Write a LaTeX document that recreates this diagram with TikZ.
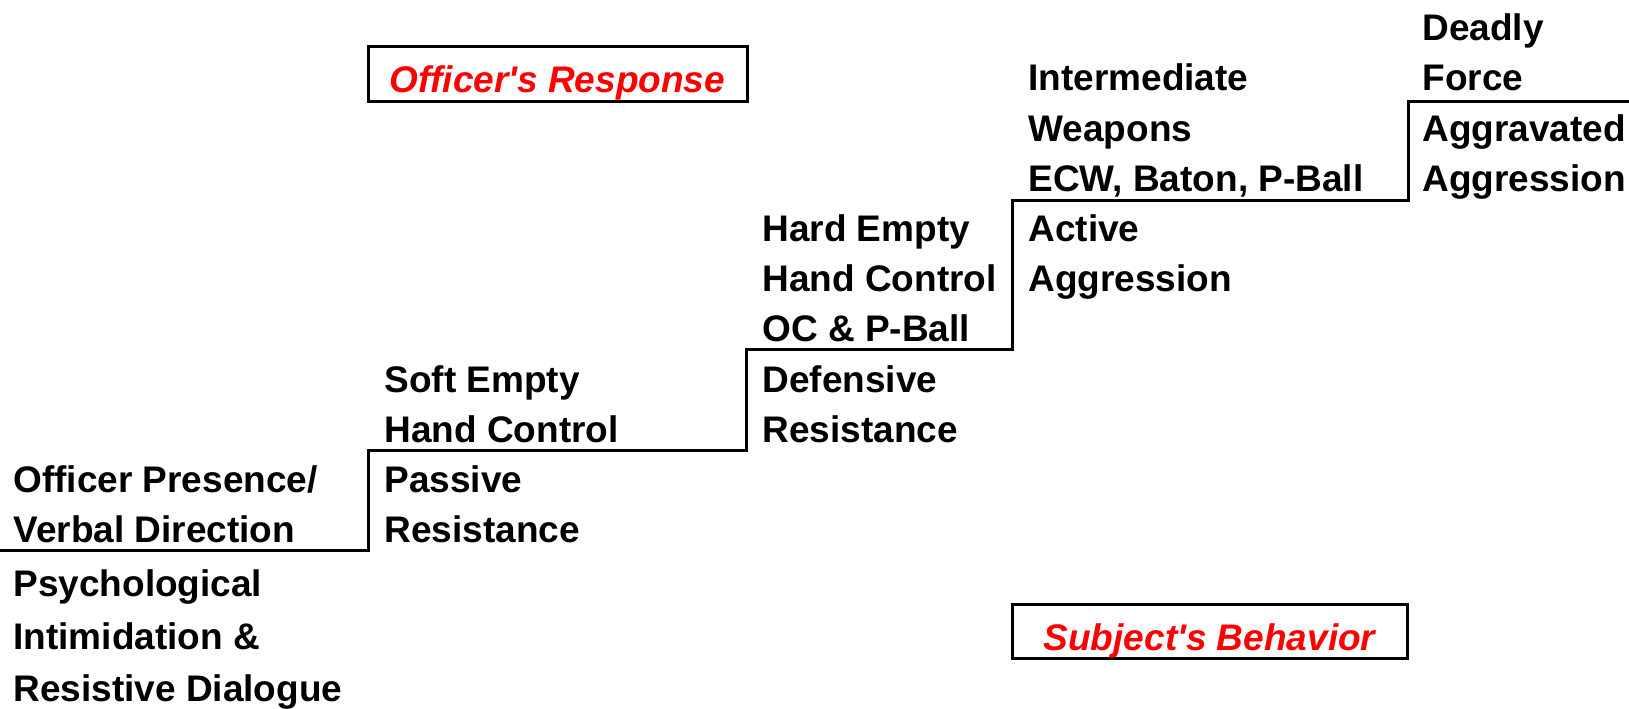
\documentclass[tikz,border=0pt]{standalone}
\usepackage{fontspec}
\setmainfont{Liberation Sans}
\begin{document}
\begin{tikzpicture}[x=0.5pt,y=-0.5pt,
  lbl/.style={anchor=base west,inner sep=0pt,font=\fontsize{18.5}{22}\selectfont\bfseries},
  tag/.style={draw,line width=1.5pt,inner sep=0pt,anchor=base,text height=23pt,text depth=4.5pt,
    text=red,font=\fontsize{18.5}{22}\selectfont\bfseries\itshape},
  stair/.style={line width=1.5pt}]
\useasboundingbox (0,0) rectangle (1629,708);
% staircase
\coordinate (s0) at (0,550);
\coordinate (s1) at (368,450);
\coordinate (s2) at (746,349);
\coordinate (s3) at (1012,200);
\coordinate (s4) at (1408,101);
\coordinate (s5) at (1629,101);
\draw[stair] (s0) -| (s1) -| (s2) -| (s3) -| (s4) -- (s5);
% column 0
\node[lbl] (a1) at (13,492) {Officer Presence/};
\node[lbl] (a2) at (13,542) {Verbal Direction};
\node[lbl] (b1) at (13,596) {Psychological};
\node[lbl] (b2) at (13,649) {Intimidation \&};
\node[lbl] (b3) at (13,701) {Resistive Dialogue};
% column 1
\node[lbl] (c1) at (384,392) {Soft Empty};
\node[lbl] (c2) at (384,442) {Hand Control};
\node[lbl] (d1) at (384,492) {Passive};
\node[lbl] (d2) at (384,542) {Resistance};
% column 2
\node[lbl] (e1) at (762,241) {Hard Empty};
\node[lbl] (e2) at (762,291) {Hand Control};
\node[lbl] (e3) at (762,341) {OC \& P-Ball};
\node[lbl] (f1) at (762,392) {Defensive};
\node[lbl] (f2) at (762,442) {Resistance};
% column 3
\node[lbl] (g1) at (1028,90) {Intermediate};
\node[lbl] (g2) at (1028,141) {Weapons};
\node[lbl] (g3) at (1028,191) {ECW, Baton, P-Ball};
\node[lbl] (h1) at (1028,241) {Active};
\node[lbl] (h2) at (1028,291) {Aggression};
% column 4
\node[lbl] (i1) at (1422,40) {Deadly};
\node[lbl] (i2) at (1422,90) {Force};
\node[lbl] (j1) at (1422,141) {Aggravated};
\node[lbl] (j2) at (1422,191) {Aggression};
% tags
\node[tag,minimum width=189.5pt] (resp) at (557.5,92) {Officer\textquotesingle s Response};
\node[tag,minimum width=197.5pt,text depth=4pt] (beh) at (1209.5,650) {Subject\textquotesingle s Behavior};
\end{tikzpicture}
\end{document}
